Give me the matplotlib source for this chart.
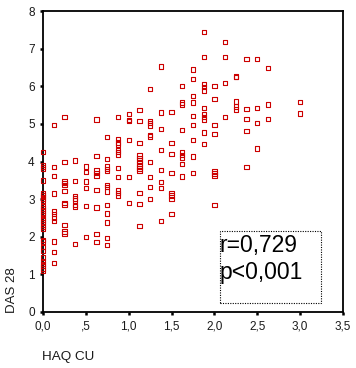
import matplotlib
matplotlib.use("Agg")
import matplotlib.pyplot as plt
from matplotlib.patches import Rectangle

plt.rcParams['font.family'] = ['Liberation Sans', 'DejaVu Sans']

# HAQ CU values (columns) and DAS 28 values read per column
haq_cols = [0.0, 0.125, 0.25, 0.375, 0.5, 0.625, 0.75, 0.875, 1.0, 1.125,
            1.25, 1.375, 1.5, 1.625, 1.75, 1.875, 2.0, 2.125, 2.25, 2.375,
            2.5, 2.625, 3.0]
das_by_col = [
    [4.25, 3.9, 3.85, 3.8, 3.5, 3.15, 3.1, 3.05, 3.0, 2.95, 2.8, 2.75, 2.7,
     2.63, 2.57, 2.5, 2.45, 2.4, 2.33, 2.26, 2.2, 1.92, 1.87, 1.73, 1.62,
     1.45, 1.36, 1.28, 1.22, 1.16, 1.1],
    [4.97, 3.85, 3.61, 3.15, 2.67, 2.6, 2.5, 2.42, 1.87, 1.6, 1.3],
    [5.19, 3.98, 3.47, 3.43, 3.38, 3.22, 2.9, 2.86, 2.31, 2.14, 2.09],
    [4.03, 3.48, 3.09, 3.02, 2.96, 2.85, 2.8, 1.81],
    [3.87, 3.72, 3.47, 3.29, 2.82, 1.99],
    [5.12, 4.15, 3.76, 3.7, 3.62, 3.24, 2.78, 2.08, 1.86],
    [4.65, 4.06, 3.87, 3.8, 3.74, 3.38, 3.33, 3.2, 2.85, 2.62, 2.38, 1.96, 1.78],
    [5.18, 4.59, 4.5, 4.45, 4.31, 4.25, 4.19, 3.83, 3.58, 3.23, 3.17, 3.1],
    [5.26, 5.11, 5.07, 4.57, 3.58, 2.89],
    [5.37, 5.08, 4.49, 4.16, 4.1, 4.03, 3.95, 3.87, 3.81, 3.76, 3.16, 2.87, 2.29],
    [5.92, 5.08, 5.02, 4.96, 4.71, 4.66, 3.98, 3.58, 3.33, 3.0],
    [6.52, 5.3, 4.87, 4.3, 3.78, 3.46, 3.29, 2.42],
    [5.32, 4.49, 4.2, 3.69, 3.16, 3.1, 3.0, 2.61],
    [6.01, 5.57, 5.52, 4.84, 4.25, 4.18, 4.11, 3.93, 3.6],
    [6.44, 6.2, 5.74, 5.57, 5.21, 4.97, 4.57, 4.13, 3.69],
    [7.44, 6.77, 6.06, 5.98, 5.89, 5.42, 5.26, 5.19, 5.12, 4.77, 4.47],
    [6.01, 5.66, 4.97, 4.73, 3.73, 3.68, 3.63, 2.84],
    [7.17, 6.77, 6.08, 5.18],
    [6.26, 6.24, 5.59, 5.46, 5.38],
    [6.72, 5.4, 5.13, 4.81, 3.86],
    [6.72, 5.42, 5.02, 4.35],
    [6.48, 5.52, 5.13],
    [5.58, 5.28],
]

x_ticks = [0.0, 0.5, 1.0, 1.5, 2.0, 2.5, 3.0, 3.5]
x_tick_labels = ["0,0", ",5", "1,0", "1,5", "2,0", "2,5", "3,0", "3,5"]
y_ticks = [0, 1, 2, 3, 4, 5, 6, 7, 8]
y_tick_labels = ["0", "1", "2", "3", "4", "5", "6", "7", "8"]
stat_text = "r=0,729\np<0,001"

xs, ys = [], []
for hx, col in zip(haq_cols, das_by_col):
    for v in col:
        xs.append(hx)
        ys.append(v)

W, H = 356, 368
fig = plt.figure(figsize=(W / 100, H / 100), dpi=100)
ax = fig.add_axes([43 / W, (H - 312) / H, 300 / W, 301 / H])

ax.scatter(xs, ys, marker='s', s=10, facecolors='none',
           edgecolors='#cc0000', linewidths=0.8, clip_on=False, zorder=3)

ax.set_xlim(0, 3.5)
ax.set_ylim(0, 8)
ax.set_xticks(x_ticks)
ax.set_xticklabels(x_tick_labels)
ax.set_yticks(y_ticks)
ax.set_yticklabels(y_tick_labels)
ax.tick_params(direction='out', length=2, width=1.8, colors='black',
               labelcolor='#1a1a1a', labelsize=8.5, pad=4)
for sp in ax.spines.values():
    sp.set_linewidth(1.3)
    sp.set_color('black')

fig.text(42 / W, 1 - 357 / H, "HAQ CU", fontsize=9.7, ha='left',
         va='center', color='#1a1a1a')
fig.text(12 / W, 1 - 290 / H, "DAS 28", fontsize=9.5, rotation=90,
         ha='center', va='center', color='#1a1a1a')

# dotted annotation box
x0 = 219.5 / W
y0 = 1 - 303 / H
bw = (321 - 219.5) / W
bh = (303 - 231) / H
fig.patches.append(Rectangle((x0, y0), bw, bh, transform=fig.transFigure,
                             fill=False, edgecolor='black', linewidth=0.8,
                             linestyle=(0, (1, 1.2))))
fig.text(220 / W, 1 - 259 / H, stat_text, fontsize=16.5, ha='left',
         va='center', linespacing=1.25, color='black')

fig.savefig("out.png", dpi=100)
